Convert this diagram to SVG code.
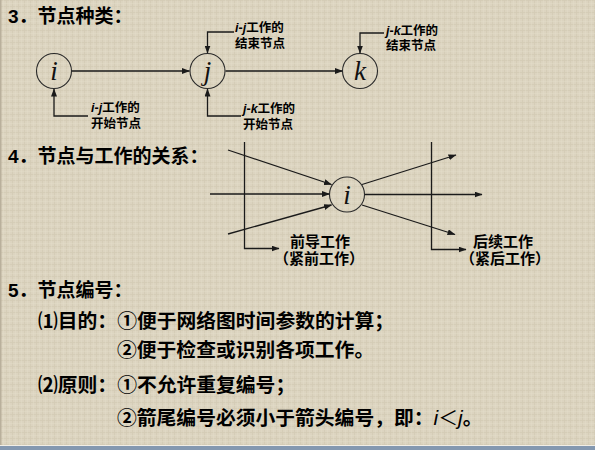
<svg xmlns="http://www.w3.org/2000/svg" width="595" height="450" viewBox="0 0 595 450">
<defs>
<pattern id="linen" width="6" height="6" patternUnits="userSpaceOnUse">
<rect width="6" height="6" fill="#dcd4c0"/>
<path d="M0,0.5 H6 M0.5,0 V6" stroke="#cfc6b0" stroke-width="0.8" opacity="0.7"/>
<path d="M0,3.5 H6 M3.5,0 V6" stroke="#e6dfcd" stroke-width="0.6" opacity="0.6"/>
</pattern>
<marker id="ah" markerWidth="8" markerHeight="6" refX="7.5" refY="3" orient="auto" markerUnits="userSpaceOnUse">
<path d="M0,0 L8,3 L0,6 Z" fill="#1a1a1a"/>
</marker>
<style>
.ln{fill:none;stroke:#1a1a1a;stroke-width:1.3}
.nd{fill:none;stroke:#2a2a2a;stroke-width:1.1}
.nt{font-family:"Liberation Serif","Times New Roman",serif;font-style:italic;font-size:27px;fill:#111;text-anchor:middle}
.hd{font-family:"Liberation Sans","Noto Sans CJK SC",sans-serif;font-weight:bold;font-size:19px;fill:#000}
.lb{font-family:"Liberation Sans","Noto Sans CJK SC",sans-serif;font-weight:bold;font-size:12.5px;fill:#000}
.lb2{font-family:"Liberation Sans","Noto Sans CJK SC",sans-serif;font-weight:bold;font-size:15px;fill:#000;text-anchor:middle}
.bd{font-family:"Liberation Sans","Noto Sans CJK SC",sans-serif;font-weight:bold;font-size:19.8px;fill:#000}
.lij{font-family:"Liberation Sans",sans-serif;font-style:italic;font-weight:bold}
.ij{font-family:"Liberation Sans",sans-serif;font-style:italic;font-weight:normal}
</style>
</defs>
<rect width="595" height="450" fill="url(#linen)"/>
<rect x="0" y="0" width="1.5" height="446" fill="#b9b09c"/>
<rect x="0" y="445" width="595" height="1" fill="#f2eee6"/>
<rect x="0" y="446" width="595" height="4" fill="#8498b0"/>

<g id="headings">
<text class="hd" x="8" y="23">3．节点种类：</text>
<text class="hd" x="8" y="163">4．节点与工作的关系：</text>
<text class="hd" x="8" y="297">5．节点编号：</text>
</g>

<g id="connectors">
<line class="ln" x1="71.5" y1="71" x2="189.5" y2="71" marker-end="url(#ah)"/>
<line class="ln" x1="225.5" y1="71" x2="342.5" y2="71" marker-end="url(#ah)"/>
<path class="ln" d="M88,116 H54 V89" marker-end="url(#ah)"/>
<path class="ln" d="M234,32 H207.5 V53" marker-end="url(#ah)"/>
<path class="ln" d="M241,116 H207.5 V89" marker-end="url(#ah)"/>
<path class="ln" d="M384,33 H360 V53" marker-end="url(#ah)"/>

<path class="ln" d="M244.5,142 V248.5 H279" marker-end="url(#ah)"/>
<line class="ln" x1="228" y1="150" x2="331.5" y2="184.5" marker-end="url(#ah)"/>
<line class="ln" x1="210" y1="194" x2="329.5" y2="194" marker-end="url(#ah)"/>
<line class="ln" x1="228" y1="234" x2="331.5" y2="205" marker-end="url(#ah)"/>
<line class="ln" x1="362" y1="184.5" x2="456" y2="155" marker-end="url(#ah)"/>
<line class="ln" x1="365" y1="194.5" x2="482" y2="194.5" marker-end="url(#ah)"/>
<line class="ln" x1="362" y1="205" x2="455" y2="234.5" marker-end="url(#ah)"/>
<path class="ln" d="M431.5,142 V249.5 H466" marker-end="url(#ah)"/>
</g>

<g id="node-i">
<circle class="nd" cx="54" cy="71" r="17.5"/>
<text class="nt" x="54" y="80">i</text>
</g>
<g id="node-j">
<circle class="nd" cx="207.5" cy="71" r="17.5"/>
<text class="nt" x="207.5" y="80">j</text>
</g>
<g id="node-k">
<circle class="nd" cx="360" cy="71" r="17.5"/>
<text class="nt" x="360" y="80">k</text>
</g>

<g id="labels-3">
<text class="lb" x="91" y="112"><tspan class="lij">i</tspan>-<tspan class="lij">j</tspan>工作的</text>
<text class="lb" x="91" y="128">开始节点</text>
<text class="lb" x="235" y="31.5"><tspan class="lij">i</tspan>-<tspan class="lij">j</tspan>工作的</text>
<text class="lb" x="235" y="47.5">结束节点</text>
<text class="lb" x="243" y="113"><tspan class="lij">j</tspan>-<tspan class="lij">k</tspan>工作的</text>
<text class="lb" x="243" y="128.5">开始节点</text>
<text class="lb" x="386" y="34.5"><tspan class="lij">j</tspan>-<tspan class="lij">k</tspan>工作的</text>
<text class="lb" x="386" y="49.5">结束节点</text>
</g>

<g id="node-center">
<circle class="nd" cx="347" cy="194.5" r="17.5"/>
<text class="nt" x="347" y="203.5">i</text>
</g>

<g id="labels-4">
<text class="lb2" x="320" y="247">前导工作</text>
<text class="lb2" x="319" y="264">（紧前工作）</text>
<text class="lb2" x="503" y="247">后续工作</text>
<text class="lb2" x="505" y="264">（紧后工作）</text>
</g>

<g id="numbering">
<text class="bd" x="38" y="328">⑴目的：①便于网络图时间参数的计算；</text>
<text class="bd" x="117" y="357">②便于检查或识别各项工作。</text>
<text class="bd" x="38" y="392">⑵原则：①不允许重复编号；</text>
<text class="bd" x="117" y="425">②箭尾编号必须小于箭头编号，即：<tspan class="ij" font-size="21">i</tspan><tspan font-weight="normal">＜</tspan><tspan class="ij" font-size="21">j</tspan>。</text>
</g>
</svg>
